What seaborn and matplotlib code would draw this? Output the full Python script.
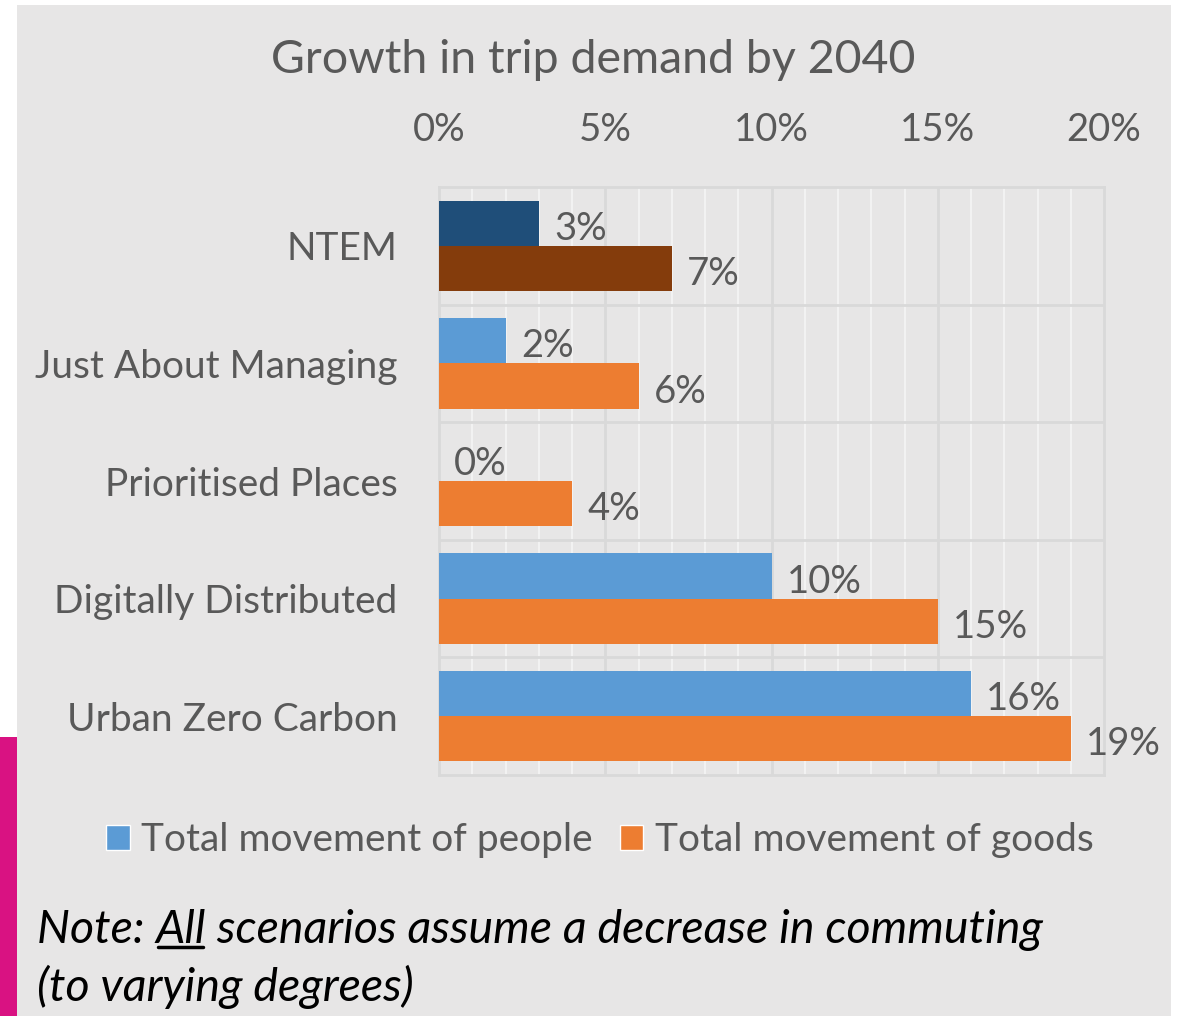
import matplotlib
matplotlib.use("Agg")
import matplotlib.pyplot as plt
import matplotlib.patches as mpatches
from matplotlib.ticker import MultipleLocator, PercentFormatter
import seaborn as sns
import pandas as pd

# ---- data ----
scenarios = ["NTEM", "Just About Managing", "Prioritised Places",
             "Digitally Distributed", "Urban Zero Carbon"]
people = [3, 2, 0, 10, 16]
goods = [7, 6, 4, 15, 19]
series_names = ["Total movement of people", "Total movement of goods"]
title = "Growth in trip demand by 2040"
note_prefix = "Note: "
note_under = "All"
note_rest = " scenarios assume a decrease in commuting"
note_line2 = "(to varying degrees)"

df = pd.DataFrame({
    "Scenario": scenarios * 2,
    "Series": [series_names[0]] * len(scenarios) + [series_names[1]] * len(scenarios),
    "Value": people + goods,
})

BG = "#e7e6e6"
TXT = "#595959"
C_PEOPLE = "#5b9bd5"
C_GOODS = "#ed7d31"
C_NTEM_P = "#1f4e79"
C_NTEM_G = "#843c0c"
FONT = "Lato"

sns.set_theme(style="white")
plt.rcParams["font.family"] = [FONT, "DejaVu Sans"]

W, H = 1179, 1016
fig = plt.figure(figsize=(W / 100, H / 100), dpi=100)
fig.patch.set_facecolor("white")

# decorative background panel and magenta strip
fig.add_artist(mpatches.Rectangle((17 / W, 0), (1171 - 17) / W, 1 - 5 / H,
                                  transform=fig.transFigure, facecolor=BG,
                                  edgecolor="none", zorder=-10))
fig.add_artist(mpatches.Rectangle((0, 0), 17 / W, 1 - 737 / H,
                                  transform=fig.transFigure, facecolor="#d91282",
                                  edgecolor="none", zorder=-10))

ax = fig.add_axes([439 / W, 1 - 775 / H, (1104 - 439) / W, (775 - 187) / H])
ax.set_facecolor(BG)

sns.barplot(data=df, y="Scenario", x="Value", hue="Series", orient="h",
            order=scenarios, hue_order=series_names,
            palette=[C_PEOPLE, C_GOODS], width=0.77, ax=ax,
            saturation=1, legend=True, zorder=3)

# NTEM recolour
n = len(scenarios)
cont_p, cont_g = ax.containers[0], ax.containers[1]
cont_p[0].set_facecolor(C_NTEM_P)
cont_g[0].set_facecolor(C_NTEM_G)

for cont in ax.containers:
    for bar in cont:
        bar.set_edgecolor("none")
        bar.set_linewidth(0)
    anns = ax.bar_label(cont, labels=[f"{v:.0f}%" for v in cont.datavalues],
                        padding=11, fontsize=27.5, color=TXT, zorder=4)
    for a in anns:
        a.xyann = (11, -4)

ax.set_xlim(0, 20)
ax.set_ylim(n - 0.5, -0.5)
ax.xaxis.set_major_locator(MultipleLocator(5))
ax.xaxis.set_minor_locator(MultipleLocator(1))
ax.xaxis.set_major_formatter(PercentFormatter(xmax=100, decimals=0))
ax.xaxis.tick_top()
ax.xaxis.set_label_position("top")
ax.set_xlabel("")
ax.set_ylabel("")
ax.tick_params(axis="x", which="both", length=0, pad=28, labelsize=27.5, labelcolor=TXT)
ax.tick_params(axis="y", length=0, pad=30, labelsize=28, labelcolor=TXT)

ax.grid(False)
for xv in range(1, 20):
    if xv % 5:
        ax.axvline(xv, color="#f2f2f2", lw=1.5, zorder=1)
    else:
        ax.axvline(xv, color="#d9d9d9", lw=2, zorder=1)
for yv in range(1, n):
    ax.axhline(yv - 0.5, color="#d9d9d9", lw=2, zorder=1)
for s in ax.spines.values():
    s.set_color("#d9d9d9")
    s.set_linewidth(2)
    s.set_visible(True)

# legend
leg = ax.get_legend()
handles = leg.legend_handles
leg.remove()
fig.legend(handles, series_names, loc="center", bbox_to_anchor=(600 / W, 1 - 840 / H),
           ncol=2, frameon=False, fontsize=28, labelcolor=TXT,
           handlelength=0.6, handleheight=0.6, handletextpad=0.3,
           columnspacing=0.7)

fig.text(593 / W, 1 - 60 / H, title, ha="center", va="center",
         fontsize=33.5, color=TXT)

# note with underlined "All"
NS = 33.5
ny1 = 1 - 930 / H
t1 = fig.text(37 / W, ny1, note_prefix, ha="left", va="center", fontsize=NS,
              style="italic", color="black")
fig.canvas.draw()
r = fig.canvas.get_renderer()
bb1 = t1.get_window_extent(r)
t2 = fig.text(bb1.x1 / W, ny1, note_under, ha="left", va="center", fontsize=NS,
              style="italic", color="black")
bb2 = t2.get_window_extent(r)
t3 = fig.text(bb2.x1 / W, ny1, note_rest, ha="left", va="center", fontsize=NS,
              style="italic", color="black")
uy = (bb2.y0 + 4) / H
fig.add_artist(plt.Line2D([bb2.x0 / W + 0.002, bb2.x1 / W - 0.002], [uy, uy],
                          transform=fig.transFigure, color="black", lw=2.5))
fig.text(37 / W, 1 - 987 / H, note_line2, ha="left", va="center", fontsize=NS,
         style="italic", color="black")

fig.savefig("out.png", dpi=100, facecolor=fig.get_facecolor())
